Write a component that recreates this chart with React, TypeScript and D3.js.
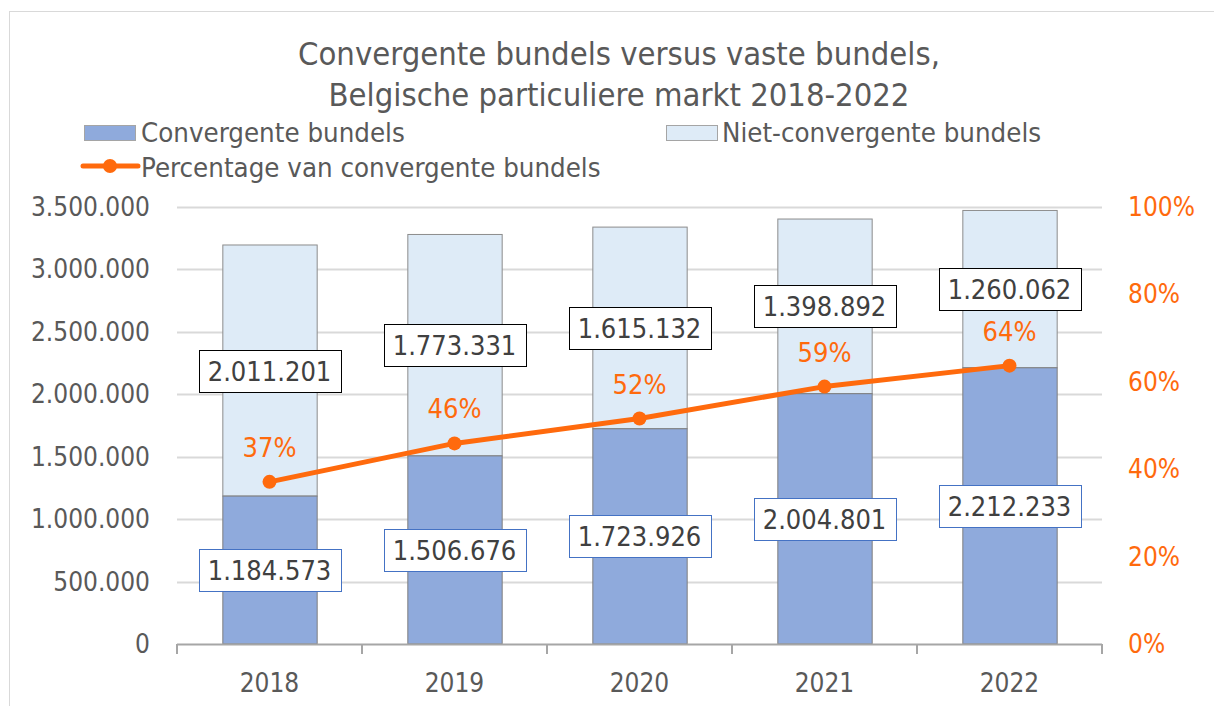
import React, { useEffect, useRef } from "react";
import * as d3 from "d3";

const years = ["2018", "2019", "2020", "2021", "2022"];
const convergent = [1184573, 1506676, 1723926, 2004801, 2212233];
const nonConvergent = [2011201, 1773331, 1615132, 1398892, 1260062];
const percentages = [0.371, 0.459, 0.516, 0.589, 0.637];
const leftTicks = [0, 500000, 1000000, 1500000, 2000000, 2500000, 3000000, 3500000];
const rightTicks = [0, 0.2, 0.4, 0.6, 0.8, 1.0];

const W = 1214;
const H = 706;
const FONT = "'DejaVu Sans Condensed', 'DejaVu Sans', sans-serif";
const TEXT = "#595959";
const ORANGE = "#FF6A0D";
const C_CONV = "#8FAADC";
const C_NON = "#DEEBF7";
const GRID = "#D9D9D9";

const fmt = (v: number) => d3.format(",")(v).replace(/,/g, ".");

export default function App() {
  const ref = useRef<SVGSVGElement>(null);
  useEffect(() => {
    const svg = d3.select(ref.current);
    svg.selectAll("*").remove();

    const left = 177, right = 1102, top = 207, bottom = 644;
    const x = d3.scaleBand().domain(years).range([left, right]).paddingInner(0.49).paddingOuter(0.245);
    const y = d3.scaleLinear().domain([0, 3500000]).range([bottom, top]);
    const yr = d3.scaleLinear().domain([0, 1]).range([bottom, top]);

    // chart border
    svg.append("rect").attr("x", 9.5).attr("y", 11.5).attr("width", W + 20).attr("height", H + 20)
      .attr("fill", "white").attr("stroke", "#D9D9D9").attr("stroke-width", 1);

    // title
    const title = svg.append("text").attr("text-anchor", "middle").attr("font-family", FONT)
      .attr("font-size", 32.5).attr("fill", TEXT);
    title.append("tspan").attr("x", 619).attr("y", 65).text("Convergente bundels versus vaste bundels,");
    title.append("tspan").attr("x", 619).attr("y", 106).text("Belgische particuliere markt 2018-2022");

    // legend
    const lg = svg.append("g").attr("font-family", FONT).attr("font-size", 27.4).attr("fill", TEXT);
    lg.append("rect").attr("x", 84.5).attr("y", 125.5).attr("width", 51).attr("height", 15)
      .attr("fill", C_CONV).attr("stroke", "#A5A5A5");
    lg.append("text").attr("x", 141).attr("y", 142).text("Convergente bundels");
    lg.append("rect").attr("x", 666.5).attr("y", 125.5).attr("width", 51).attr("height", 15)
      .attr("fill", C_NON).attr("stroke", "#A5A5A5");
    lg.append("text").attr("x", 722).attr("y", 142).text("Niet-convergente bundels");
    lg.append("line").attr("x1", 83).attr("x2", 138).attr("y1", 166).attr("y2", 166)
      .attr("stroke", ORANGE).attr("stroke-width", 5).attr("stroke-linecap", "round");
    lg.append("circle").attr("cx", 110).attr("cy", 166).attr("r", 7).attr("fill", ORANGE);
    lg.append("text").attr("x", 141).attr("y", 177).text("Percentage van convergente bundels");

    // gridlines
    svg.append("g").selectAll("line").data(leftTicks.filter((t) => t > 0)).join("line")
      .attr("x1", left).attr("x2", right)
      .attr("y1", (d) => Math.round(y(d)) + 0.5).attr("y2", (d) => Math.round(y(d)) + 0.5)
      .attr("stroke", GRID).attr("stroke-width", 2);

    // left axis labels
    svg.append("g").selectAll("text").data(leftTicks).join("text")
      .attr("x", 150).attr("y", (d) => y(d) + 9).attr("text-anchor", "end")
      .attr("font-family", FONT).attr("font-size", 26).attr("fill", TEXT)
      .text((d) => fmt(d));

    // right axis labels
    svg.append("g").selectAll("text").data(rightTicks).join("text")
      .attr("x", 1128).attr("y", (d) => yr(d) + 9).attr("text-anchor", "start")
      .attr("font-family", FONT).attr("font-size", 26).attr("fill", ORANGE)
      .text((d) => `${Math.round(d * 100)}%`);

    // bars
    const bars = svg.append("g");
    years.forEach((yrName, i) => {
      const bx = x(yrName)!;
      const bw = x.bandwidth();
      const c = convergent[i];
      const n = nonConvergent[i];
      bars.append("rect").attr("x", bx + 0.5).attr("y", y(c + n)).attr("width", bw).attr("height", y(c) - y(c + n))
        .attr("fill", C_NON).attr("stroke", "#8C8C8C").attr("stroke-width", 1);
      bars.append("rect").attr("x", bx + 0.5).attr("y", y(c)).attr("width", bw).attr("height", y(0) - y(c))
        .attr("fill", C_CONV).attr("stroke", "#7F7F7F").attr("stroke-width", 1);
    });

    // x axis
    svg.append("line").attr("x1", left).attr("x2", right).attr("y1", bottom + 0.5).attr("y2", bottom + 0.5)
      .attr("stroke", "#A6A6A6").attr("stroke-width", 2);
    const bounds = d3.range(years.length + 1).map((k) => left + k * x.step());
    svg.append("g").selectAll("line").data(bounds).join("line")
      .attr("x1", (d) => d).attr("x2", (d) => d).attr("y1", bottom).attr("y2", bottom + 10)
      .attr("stroke", "#A6A6A6").attr("stroke-width", 2);
    svg.append("g").selectAll("text").data(years).join("text")
      .attr("x", (d) => x(d)! + x.bandwidth() / 2).attr("y", 692).attr("text-anchor", "middle")
      .attr("font-family", FONT).attr("font-size", 26).attr("fill", TEXT).text((d) => d);

    // line
    const cx = (i: number) => x(years[i])! + x.bandwidth() / 2;
    const line = d3.line<number>().x((_, i) => cx(i)).y((d) => yr(d));
    svg.append("path").datum(percentages).attr("d", line).attr("fill", "none")
      .attr("stroke", ORANGE).attr("stroke-width", 5).attr("stroke-linejoin", "round");
    svg.append("g").selectAll("circle").data(percentages).join("circle")
      .attr("cx", (_, i) => cx(i)).attr("cy", (d) => yr(d)).attr("r", 7).attr("fill", ORANGE);

    // labels with boxes
    const labelBox = (cxv: number, cyv: number, txt: string, stroke: string) => {
      const g = svg.append("g");
      const rect = g.append("rect");
      const t = g.append("text").attr("x", cxv).attr("y", cyv + 10).attr("text-anchor", "middle")
        .attr("font-family", FONT).attr("font-size", 27).attr("fill", "#404040").text(txt);
      const w = (t.node() as SVGTextElement).getComputedTextLength();
      rect.attr("x", Math.round(cxv - w / 2 - 9) + 0.5).attr("y", Math.round(cyv - 21) + 0.5)
        .attr("width", Math.round(w + 18)).attr("height", 42)
        .attr("fill", "white").attr("stroke", stroke).attr("stroke-width", 1);
    };
    years.forEach((yy, i) => {
      const c = convergent[i];
      const n = nonConvergent[i];
      labelBox(cx(i), y(c / 2), fmt(c), "#4472C4");
      labelBox(cx(i), y(c + n / 2), fmt(n), "#000000");
    });

    // percentage labels
    svg.append("g").selectAll("text").data(percentages).join("text")
      .attr("x", (_, i) => cx(i)).attr("y", (d) => yr(d) - 25).attr("text-anchor", "middle")
      .attr("font-family", FONT).attr("font-size", 27).attr("fill", ORANGE)
      .text((d) => `${Math.round(d * 100)}%`);
  }, []);

  return (
    <svg ref={ref} width={W} height={H} style={{ position: "absolute", left: 0, top: 0, background: "white" }} />
  );
}
